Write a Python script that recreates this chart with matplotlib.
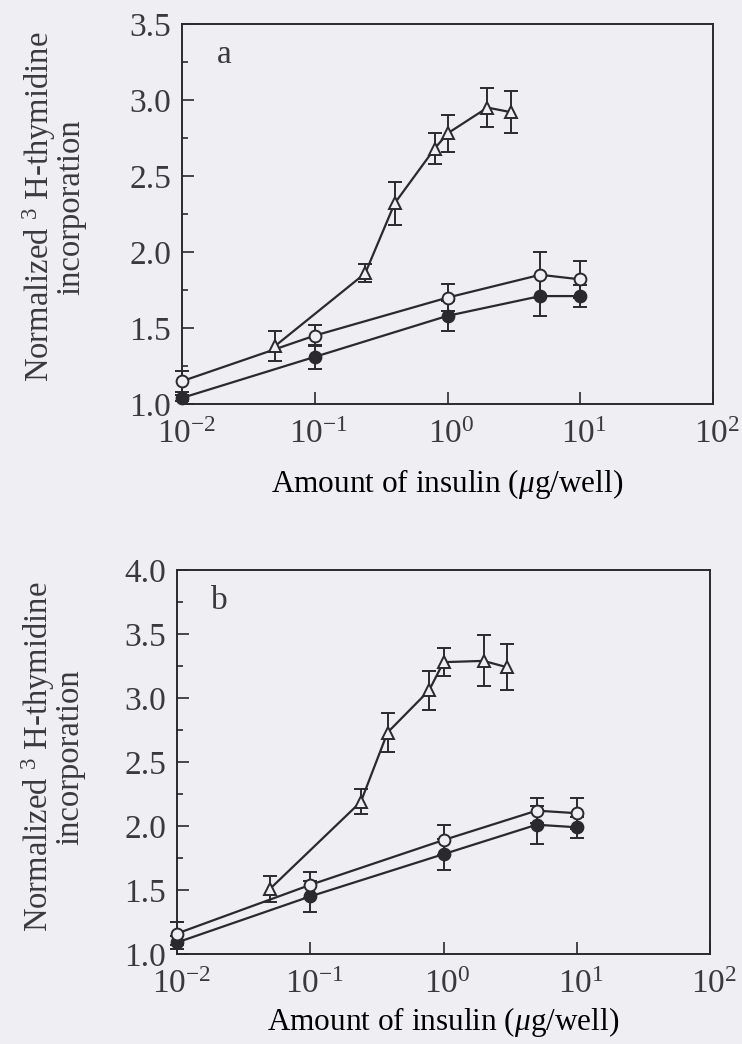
import matplotlib
matplotlib.use("Agg")
import matplotlib.pyplot as plt
import matplotlib.ticker as mticker
import matplotlib.transforms as mtrans
import numpy as np

# ---------------- data ----------------
# panel a
a_tri_x = [0.05, 0.24, 0.4, 0.8, 1.0, 2.0, 3.0]
a_tri_y = [1.38, 1.86, 2.32, 2.68, 2.78, 2.95, 2.92]
a_tri_e = [0.10, 0.06, 0.14, 0.10, 0.12, 0.13, 0.14]
a_open_x = [0.01, 0.1, 1.0, 5.0, 10.0]
a_open_y = [1.15, 1.45, 1.70, 1.85, 1.82]
a_open_e = [0.07, 0.07, 0.09, 0.15, 0.12]
a_fill_x = [0.01, 0.1, 1.0, 5.0, 10.0]
a_fill_y = [1.04, 1.31, 1.58, 1.71, 1.71]
a_fill_e = [0.02, 0.08, 0.10, 0.13, 0.07]

# panel b
b_tri_x = [0.05, 0.24, 0.38, 0.78, 1.0, 2.0, 3.0]
b_tri_y = [1.51, 2.19, 2.73, 3.06, 3.28, 3.29, 3.24]
b_tri_e = [0.10, 0.10, 0.15, 0.15, 0.11, 0.20, 0.18]
b_open_x = [0.01, 0.1, 1.0, 5.0, 10.0]
b_open_y = [1.16, 1.54, 1.89, 2.12, 2.10]
b_open_e = [0.09, 0.10, 0.12, 0.10, 0.12]
b_fill_x = [0.01, 0.1, 1.0, 5.0, 10.0]
b_fill_y = [1.09, 1.45, 1.78, 2.01, 1.99]
b_fill_e = [0.05, 0.12, 0.12, 0.15, 0.08]

xticks = [1e-2, 1e-1, 1e0, 1e1, 1e2]
xticklabels = ["$\\mathregular{10^{-2}}$", "$\\mathregular{10^{-1}}$",
               "$\\mathregular{10^{0}}$", "$\\mathregular{10^{1}}$",
               "$\\mathregular{10^{2}}$"]
a_yticks = [1.0, 1.5, 2.0, 2.5, 3.0, 3.5]
b_yticks = [1.0, 1.5, 2.0, 2.5, 3.0, 3.5, 4.0]
ylabel_text = "Normalized $\\mathregular{^{3}}$ H-thymidine\nincorporation"
xlabel_text = "Amount of insulin ($\\mathit{\\mu}$g/well)"

# ---------------- style ----------------
BG = "#efeef2"
INK = "#2a2a2c"
plt.rcParams["font.family"] = ["Liberation Serif", "DejaVu Serif"]
plt.rcParams["mathtext.fontset"] = "custom"
plt.rcParams["mathtext.rm"] = "Liberation Serif"
plt.rcParams["mathtext.it"] = "Liberation Serif:italic"
plt.rcParams["text.color"] = "#3a3a3c"

fig = plt.figure(figsize=(7.42, 10.44), dpi=100, facecolor=BG)

W, H = 742.0, 1044.0
ax_a = fig.add_axes([182 / W, 1 - 404 / H, 531 / W, 380 / H])
ax_b = fig.add_axes([177 / W, 1 - 954 / H, 533 / W, 384 / H])


def draw(ax, tri, opn, fil, ylim, yticks, letter, labelpad):
    ax.set_facecolor(BG)
    common = dict(color=INK, lw=1.6, capsize=5, capthick=1.4, elinewidth=1.4,
                  clip_on=False, markersize=8.5, markeredgewidth=1.4)
    for (x, y, e), mk, fc in [(fil, 'o', INK), (opn, 'o', BG), (tri, '^', BG)]:
        ax.errorbar(x, y, yerr=e, fmt='-' + mk, markerfacecolor=fc,
                    markeredgecolor=INK, zorder=3, **common)
    ax.set_xscale("log")
    ax.set_xlim(1e-2, 1e2)
    ax.set_ylim(*ylim)
    ax.set_xticks(xticks)
    ax.set_xticklabels(xticklabels)
    ax.xaxis.set_minor_locator(mticker.NullLocator())
    ax.set_yticks(yticks)
    ax.set_yticklabels([f"{v:.1f}" for v in yticks])
    ax.yaxis.set_minor_locator(mticker.MultipleLocator(0.25))
    ax.tick_params(axis="both", which="major", direction="in", length=8.5,
                   width=1.2, color=INK, labelsize=24, labelcolor="#3a3a3c")
    ax.tick_params(axis="y", which="major", pad=8)
    ax.tick_params(axis="x", which="major", pad=11)
    ax.tick_params(axis="y", which="minor", direction="in", length=4.5,
                   width=1.2, color=INK)
    ax.tick_params(top=False, right=False, which="both")
    for s in ax.spines.values():
        s.set_color(INK)
        s.set_linewidth(1.4)
    off = mtrans.ScaledTranslation(3 / 72, 0, fig.dpi_scale_trans)
    for lab in ax.get_xticklabels():
        lab.set_transform(lab.get_transform() + off)
    ax.set_xlabel(xlabel_text, fontsize=22.5, labelpad=labelpad)
    ax.text(0.08, 0.92, letter, transform=ax.transAxes, fontsize=24,
            ha="center", va="center")


draw(ax_a, (a_tri_x, a_tri_y, a_tri_e), (a_open_x, a_open_y, a_open_e),
     (a_fill_x, a_fill_y, a_fill_e), (1.0, 3.5), a_yticks, "a", 12)
draw(ax_b, (b_tri_x, b_tri_y, b_tri_e), (b_open_x, b_open_y, b_open_e),
     (b_fill_x, b_fill_y, b_fill_e), (1.0, 4.0), b_yticks, "b", 4)

fig.text(53 / W, 1 - 207 / H, ylabel_text, rotation=90, ha="center",
         va="center", fontsize=23.5, multialignment="center", linespacing=0.9)
fig.text(52 / W, 1 - 757 / H, ylabel_text, rotation=90, ha="center",
         va="center", fontsize=23.5, multialignment="center", linespacing=0.9)

fig.savefig("out.png", dpi=100, facecolor=BG)
